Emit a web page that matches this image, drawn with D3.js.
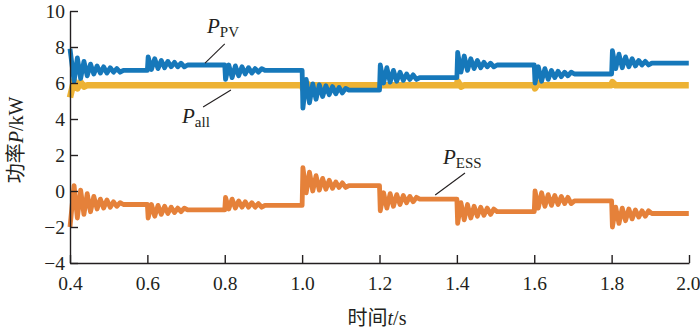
<!DOCTYPE html>
<html><head><meta charset="utf-8">
<script src="https://cdn.jsdelivr.net/npm/d3@7"></script>
<style>
body{margin:0;background:#fff;}
svg text{font-family:"Liberation Serif","Times New Roman",serif;fill:#231f20;}
</style></head><body>
<svg id="c" width="700" height="333"></svg>
<script>
const segStart = [0.4,0.6,0.8,1.0,1.2,1.4,1.6,1.8];
const segEnd = 2.0;
const xTicks = [0.4,0.6,0.8,1.0,1.2,1.4,1.6,1.8,2.0];
const yTicks = [-4,-2,0,2,4,6,8,10];

const pvLevel = [6.7, 7.0, 6.7, 5.6, 6.3, 7.0, 6.5, 7.1];
const pvTransient = [
 [7.9, 6.1, 7.4, 6.25, 7.2, 6.4, 7.05, 6.5, 6.95, 6.55, 6.9, 6.55, 6.85, 6.6, 6.8, 6.6],
 [7.45, 6.75, 7.35, 6.8, 7.25, 6.85, 7.2, 6.9, 7.15, 6.9, 7.1, 6.9],
 [6.2, 7.0, 6.3, 6.95, 6.4, 6.9, 6.5, 6.85, 6.55, 6.8, 6.6, 6.8],
 [4.6, 6.2, 4.9, 5.95, 5.1, 5.9, 5.25, 5.85, 5.35, 5.8, 5.4, 5.75, 5.45, 5.7],
 [7.0, 6.0, 6.85, 6.05, 6.7, 6.1, 6.6, 6.15, 6.5, 6.2, 6.45, 6.2],
 [7.7, 6.6, 7.5, 6.7, 7.35, 6.8, 7.25, 6.85, 7.15, 6.9, 7.1, 6.9],
 [6.0, 6.9, 6.1, 6.8, 6.2, 6.7, 6.3, 6.65, 6.35, 6.6, 6.4, 6.6],
 [7.8, 6.8, 7.6, 6.85, 7.45, 6.9, 7.35, 6.95, 7.25, 7.0, 7.2, 7.0]
];
const essLevel = [-0.75, -1.05, -0.8, 0.3, -0.45, -1.15, -0.55, -1.25];
const essTransient = [
 [-2.0, 0.3, -1.5, 0.05, -1.3, -0.15, -1.15, -0.3, -1.0, -0.45, -0.95, -0.5, -0.9, -0.6, -0.85, -0.65],
 [-1.5, -0.75, -1.4, -0.8, -1.3, -0.85, -1.25, -0.9, -1.2, -0.95, -1.15, -0.95],
 [-0.35, -1.0, -0.45, -0.95, -0.55, -0.9, -0.6, -0.9, -0.65, -0.9, -0.7, -0.9],
 [1.3, -0.1, 1.05, 0.0, 0.85, 0.05, 0.7, 0.1, 0.6, 0.15, 0.5, 0.2, 0.45, 0.2],
 [-1.1, -0.1, -0.95, -0.15, -0.85, -0.2, -0.75, -0.25, -0.65, -0.3, -0.6, -0.35],
 [-1.8, -0.65, -1.6, -0.75, -1.5, -0.85, -1.4, -0.9, -1.35, -0.95, -1.3, -1.0],
 [0.0, -0.95, -0.1, -0.85, -0.2, -0.8, -0.25, -0.75, -0.3, -0.7, -0.35, -0.7],
 [-2.0, -0.9, -1.8, -0.95, -1.65, -1.0, -1.55, -1.05, -1.45, -1.1, -1.4, -1.1]
];
const allLevel = [5.87, 5.87, 5.87, 5.87, 5.87, 5.87, 5.87, 5.87];
const allTransient = [
 [5.2, 6.15, 5.7, 6.05, 5.8],
 [], [],
 [5.7, 6.0],
 [],
 [6.1, 5.8],
 [5.7, 6.0],
 [6.05]
];

const halfPeriod = 0.0085;

function buildSeries(levels, transients){
  const pts = [];
  levels.forEach((lv, i) => {
    const t0 = segStart[i];
    const t1 = i + 1 < segStart.length ? segStart[i+1] : segEnd;
    const tr = transients[i];
    if (i > 0) pts.push([t0, levels[i-1]]);
    tr.forEach((v, k) => {
      const t = (i === 0 && k === 0) ? t0 : t0 + 0.002 + k * halfPeriod;
      pts.push([t, v]);
    });
    const tStart = t0 + 0.002 + tr.length * halfPeriod;
    pts.push([Math.max(tStart, t0), lv]);
    pts.push([t1 - 0.0005, lv]);
  });
  return pts;
}

const svg = d3.select("#c");
const x = d3.scaleLinear().domain([0.4, 2.0]).range([70, 689]);
const y = d3.scaleLinear().domain([-4, 10]).range([263, 11]);

const line = d3.line().x(d => x(d[0])).y(d => y(d[1]));

const series = [
  {pts: buildSeries(allLevel, allTransient), color: "#EDB234", w: 6.5},
  {pts: buildSeries(pvLevel, pvTransient), color: "#1678BA", w: 4.8},
  {pts: buildSeries(essLevel, essTransient), color: "#E5813A", w: 4.8}
];
series.forEach(s => {
  svg.append("path").datum(s.pts).attr("d", line)
    .attr("fill", "none").attr("stroke", s.color)
    .attr("stroke-width", s.w).attr("stroke-linejoin", "round")
    .attr("stroke-linecap", "butt");
});

// axes
const fmtX = d => d.toFixed(1);
const fmtY = d => d < 0 ? "\u2212" + Math.abs(d) : String(d);
const gx = svg.append("g").attr("transform", "translate(0,263)")
  .call(d3.axisBottom(x).tickValues(xTicks).tickFormat(fmtX).tickSizeInner(-8).tickSizeOuter(0).tickPadding(10));
const gy = svg.append("g").attr("transform", "translate(70,0)")
  .call(d3.axisLeft(y).tickValues(yTicks).tickFormat(fmtY).tickSizeInner(-8).tickSizeOuter(0).tickPadding(5));
[gx, gy].forEach(g => {
  g.select(".domain").attr("stroke", "#231f20").attr("stroke-width", 1.4);
  g.selectAll(".tick line").attr("stroke", "#231f20").attr("stroke-width", 1.4);
  g.selectAll(".tick text").attr("font-size", 19.5).attr("fill", "#231f20")
   .attr("font-family", "Liberation Serif, serif");
});
gx.selectAll(".tick text").attr("dy", "0.85em");
gx.selectAll(".tick").filter(d => d === 2.0).select("text").attr("text-anchor", "end").attr("dx", 11);

// axis titles
const xt = svg.append("text").attr("x", 377).attr("y", 325).attr("text-anchor", "middle").attr("font-size", 20);
xt.append("tspan").text("时间").attr("font-family", "Noto Sans CJK SC");
xt.append("tspan").text("t").attr("font-style", "italic");
xt.append("tspan").text("/s");

const yt = svg.append("text").attr("transform", "translate(23,140) rotate(-90)").attr("text-anchor", "middle").attr("font-size", 20);
yt.append("tspan").text("功率").attr("font-family", "Noto Sans CJK SC");
yt.append("tspan").text("P").attr("font-style", "italic");
yt.append("tspan").text("/kW");

// annotations
function label(xp, yp, sub){
  const t = svg.append("text").attr("x", xp).attr("y", yp).attr("font-size", 21);
  t.append("tspan").text("P").attr("font-style", "italic");
  t.append("tspan").text(sub).attr("font-size", 15).attr("dy", 4);
}
label(207, 33, "PV");
label(182, 123, "all");
label(443, 164, "ESS");

const leaders = [
  [[0.80, 8.17], [0.749, 7.1]],
  [[0.744, 4.67], [0.816, 5.61]],
  [[1.421, 1.0], [1.344, -0.22]]
];
leaders.forEach(l => {
  svg.append("line").attr("x1", x(l[0][0])).attr("y1", y(l[0][1]))
    .attr("x2", x(l[1][0])).attr("y2", y(l[1][1]))
    .attr("stroke", "#231f20").attr("stroke-width", 1.1);
});
</script></body></html>
